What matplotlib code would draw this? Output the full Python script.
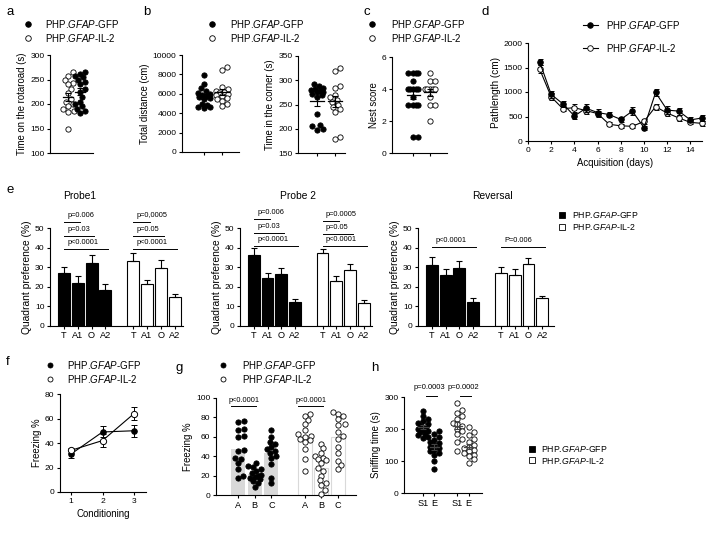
import numpy as np
import matplotlib
matplotlib.use('Agg')
import matplotlib.pyplot as plt
from matplotlib.lines import Line2D
from matplotlib.patches import Rectangle

plt.rcParams['font.family'] = ['Liberation Sans', 'DejaVu Sans']
plt.rcParams['mathtext.fontset'] = 'custom'
plt.rcParams['mathtext.rm'] = 'Liberation Sans'
plt.rcParams['mathtext.it'] = 'Liberation Sans:italic'

# ---------------- data ----------------
GFP_LABEL = 'PHP.$\\mathit{GFAP}$-GFP'
IL2_LABEL = 'PHP.$\\mathit{GFAP}$-IL-2'

# a: rotarod
rota_il2 = [265, 258, 248, 243, 240, 230, 222, 210, 205, 200, 195, 190, 185, 183, 148]
rota_gfp = [265, 262, 258, 255, 250, 245, 240, 230, 225, 215, 205, 200, 195, 190, 185, 182]

# b: open field
dist_gfp = [7900, 7000, 6600, 6300, 6100, 6000, 5900, 5800, 5700, 5600, 5500, 5000, 4800, 4600, 4500, 4600]
dist_il2 = [8800, 8500, 6700, 6500, 6300, 6200, 6100, 6000, 5900, 5800, 5600, 5500, 5300, 5000, 4700]
corner_gfp = [292, 288, 285, 282, 280, 278, 276, 275, 272, 270, 265, 230, 207, 205, 200, 198]
corner_il2 = [325, 320, 288, 285, 270, 265, 260, 255, 250, 245, 240, 235, 182, 178]

# c: nest score
nest_gfp = [5, 5, 5, 5, 4.5, 4, 4, 4, 4, 4, 3.5, 3, 3, 3, 3, 1, 1]
nest_il2 = [5, 4.5, 4.5, 4, 4, 4, 4, 4, 3.5, 3, 3, 2]

# d: water maze acquisition
days = np.arange(1, 16)
path_gfp = [1620, 950, 760, 510, 670, 580, 540, 440, 610, 270, 990, 630, 610, 430, 470]
path_gfp_err = [60, 70, 60, 70, 80, 70, 60, 50, 80, 40, 80, 80, 70, 50, 60]
path_il2 = [1470, 900, 660, 680, 620, 560, 340, 310, 300, 400, 700, 570, 470, 380, 360]
path_il2_err = [80, 70, 50, 80, 70, 60, 40, 40, 40, 50, 60, 50, 60, 40, 50]

# e: probe trials
quadrants = ['T', 'A1', 'O', 'A2']
probe_titles = ['Probe1', 'Probe 2', 'Reversal']
probe_gfp = [[27, 22, 32, 18.5], [36, 24.5, 26.5, 12], [31, 26, 29.5, 12.5]]
probe_gfp_err = [[3, 3.5, 4, 3], [4, 2.5, 3, 2], [4, 3, 3.5, 2]]
probe_il2 = [[33, 21.5, 29.5, 15], [37, 23, 28.5, 11.5], [27, 26, 31.5, 14.5]]
probe_il2_err = [[4, 2, 4, 1.5], [2.5, 2.5, 3, 2], [3, 3, 3, 1]]
# significance: (group, target quadrant index, height, label)
probe_sig = [
    [(0, 1, 53, 'p=0.006'), (0, 2, 46, 'p=0.03'), (0, 3, 39.5, 'p<0.0001'),
     (1, 1, 53, 'p=0,0005'), (1, 2, 46, 'p=0.05'), (1, 3, 39.5, 'p<0.0001')],
    [(0, 1, 54.5, 'p=0.006'), (0, 2, 47.5, 'p=0.03'), (0, 3, 41, 'p<0.0001'),
     (1, 1, 53.5, 'p=0.0005'), (1, 2, 47, 'p=0.05'), (1, 3, 41, 'p<0.0001')],
    [(0, 3, 40.5, 'p<0.0001'), (1, 3, 40.5, 'P=0.006')],
]

# f: fear conditioning
cond = [1, 2, 3]
freeze_gfp = [31, 49, 50]
freeze_gfp_err = [3, 4.5, 5]
freeze_il2 = [34, 42, 64]
freeze_il2_err = [2, 5, 5]

# g: context test
contexts = ['A', 'B', 'C']
ctx_gfp = [
    [76, 75, 68, 67, 61, 60, 46, 45, 38, 37, 33, 27, 20, 18],
    [33, 30, 29, 27, 25, 23, 21, 20, 19, 18, 17, 14, 12, 8],
    [67, 60, 55, 53, 49, 47, 45, 43, 40, 38, 32, 18, 12],
]
ctx_il2 = [
    [84, 81, 77, 73, 67, 63, 61, 60, 58, 57, 55, 47, 37, 25],
    [53, 48, 43, 40, 38, 37, 36, 33, 28, 25, 20, 15, 12, 10, 5, 1],
    [86, 84, 81, 78, 73, 72, 65, 61, 58, 49, 43, 35, 31, 27],
]

# h: social novelty
sniff_labels = ['S1', 'E']
sniff_gfp = [
    [255, 240, 230, 225, 220, 215, 210, 205, 200, 198, 195, 190, 185, 180, 175, 172],
    [195, 185, 175, 165, 160, 155, 150, 145, 140, 135, 130, 125, 120, 100, 75],
]
sniff_il2 = [
    [280, 260, 250, 240, 230, 220, 215, 210, 200, 195, 185, 170, 160, 130],
    [205, 190, 180, 170, 160, 150, 145, 140, 135, 130, 125, 120, 115, 105, 95],
]

# ---------------- figure helpers ----------------
W, H = 706, 533
fig = plt.figure(figsize=(W / 100, H / 100), dpi=100)

TICK = 6.1
LAB = 6.9


def add_ax(x0, ytop, x1, ybot):
    ax = fig.add_axes([x0 / W, 1 - ybot / H, (x1 - x0) / W, (ybot - ytop) / H])
    for s in ['top', 'right']:
        ax.spines[s].set_visible(False)
    for s in ['left', 'bottom']:
        ax.spines[s].set_linewidth(0.8)
    ax.tick_params(labelsize=TICK, length=2.5, width=0.8, pad=1.5)
    ax.patch.set_alpha(0)
    return ax


def swarm_x(ax, xc, vals, d_px=5.0, max_px=6.5):
    # simple beeswarm in pixel space, capped in width (points may overlap)
    tr = ax.transData
    pts = tr.transform(np.column_stack([np.full(len(vals), xc, dtype=float),
                                        np.asarray(vals, dtype=float)]))
    ys = pts[:, 1]
    x0 = pts[0, 0]
    step = 1.6
    cands = [0.0]
    k = 1
    while k * step <= max_px:
        cands += [k * step, -k * step]
        k += 1
    xs = np.zeros(len(vals))
    placed = []
    for i in np.argsort(ys):
        y = ys[i]
        best, best_d = 0.0, -1
        for c in cands:
            dmin = min([np.hypot(c - px, y - py) for px, py in placed] + [99])
            if dmin >= d_px:
                best = c
                break
            if dmin > best_d:
                best, best_d = c, dmin
        placed.append((best, y))
        xs[i] = best
    inv = tr.inverted()
    return inv.transform(np.column_stack([x0 + xs, ys]))[:, 0]


def dots(ax, xc, vals, filled, ms=3.8, d_px=5.0, max_px=6.5):
    xs = swarm_x(ax, xc, vals, d_px, max_px)
    ax.plot(xs, vals, 'o', ms=ms, mfc='black' if filled else 'white',
            mec='black', mew=0.6, ls='none', clip_on=False, zorder=3)


def mean_sem(ax, xc, vals, hw=0.38, color='black'):
    v = np.asarray(vals, dtype=float)
    m = v.mean()
    s = v.std(ddof=1) / np.sqrt(len(v))
    ax.plot([xc - hw, xc + hw], [m, m], color=color, lw=0.9, zorder=4)
    ax.errorbar([xc], [m], yerr=[s], fmt='none', ecolor=color, elinewidth=0.8,
                capsize=2, capthick=0.8, zorder=4)


def legend_item(x, y, marker, filled, ms=4, line=None):
    if line is not None:
        fig.add_artist(Line2D([line[0] / W, line[1] / W], [1 - y / H, 1 - y / H],
                              color='black', lw=0.8, transform=fig.transFigure))
    fig.add_artist(Line2D([x / W], [1 - y / H], marker=marker, ms=ms,
                          mfc='black' if filled else 'white', mec='black', mew=0.6,
                          ls='none', transform=fig.transFigure))


def legend_pair(xm, xt, y1, y2, size=7, ms=4, line=None):
    legend_item(xm, y1, 'o', True, ms=ms, line=line)
    legend_item(xm, y2, 'o', False, ms=ms, line=line)
    fig.text(xt / W, 1 - y1 / H, GFP_LABEL, fontsize=size, va='center', ha='left')
    fig.text(xt / W, 1 - y2 / H, IL2_LABEL, fontsize=size, va='center', ha='left')


def square_legend(xm, xt, y1, y2, size=6.3):
    for y, fc in [(y1, 'black'), (y2, 'white')]:
        fig.add_artist(Rectangle(((xm - 3) / W, 1 - (y + 3) / H), 6 / W, 6 / H,
                                 facecolor=fc, edgecolor='black', lw=0.6,
                                 transform=fig.transFigure))
    fig.text(xt / W, 1 - y1 / H, GFP_LABEL, fontsize=size, va='center')
    fig.text(xt / W, 1 - y2 / H, IL2_LABEL, fontsize=size, va='center')


def panel_letter(x, y, s):
    fig.text(x / W, 1 - y / H, s, fontsize=9.5, va='center', ha='left')


# ---------------- a ----------------
ax = add_ax(50, 55, 93, 153)
ax.set_xlim(-1.5, 2.08)
ax.set_ylim(100, 300)
ax.set_yticks([100, 150, 200, 250, 300])
ax.set_xticks([])
dots(ax, 0, rota_il2, False)
dots(ax, 1, rota_gfp, True)
mean_sem(ax, 0, rota_il2)
mean_sem(ax, 1, rota_gfp)
ax.set_ylabel('Time on the rotaroad (s)', fontsize=LAB, labelpad=2)
panel_letter(6, 12, 'a')
legend_pair(28, 45, 24, 38)

# ---------------- b ----------------
ax = add_ax(182, 55, 239, 152)
ax.set_xlim(-1.22, 1.94)
ax.set_ylim(0, 10000)
ax.set_yticks(range(0, 10001, 2000))
ax.set_xticks([0, 1])
ax.set_xticklabels(['', ''])
dots(ax, 0, dist_gfp, True)
dots(ax, 1, dist_il2, False)
mean_sem(ax, 0, dist_gfp)
mean_sem(ax, 1, dist_il2)
ax.set_ylabel('Total distance (cm)', fontsize=LAB, labelpad=2)

ax = add_ax(298, 56, 345, 153)
ax.set_xlim(-1.06, 1.56)
ax.set_ylim(150, 350)
ax.set_yticks(range(150, 351, 50))
ax.set_xticks([0, 1])
ax.set_xticklabels(['', ''])
dots(ax, 0, corner_gfp, True)
dots(ax, 1, corner_il2, False)
mean_sem(ax, 0, corner_gfp)
mean_sem(ax, 1, corner_il2)
ax.set_ylabel('Time in the corner (s)', fontsize=LAB, labelpad=2)
panel_letter(143, 12, 'b')
legend_pair(212, 230, 24, 38)

# ---------------- c ----------------
ax = add_ax(392, 57, 447, 153)
ax.set_xlim(-1.24, 2.0)
ax.set_ylim(0, 6)
ax.set_yticks([0, 2, 4, 6])
ax.set_xticks([0, 1])
ax.set_xticklabels(['', ''])
dots(ax, 0, nest_gfp, True, max_px=6)
dots(ax, 1, nest_il2, False, max_px=6)
mean_sem(ax, 0, nest_gfp)
mean_sem(ax, 1, nest_il2)
ax.set_ylabel('Nest score', fontsize=LAB, labelpad=2)
panel_letter(363, 12, 'c')
legend_pair(372, 391, 24, 38)

# ---------------- d ----------------
ax = add_ax(528, 43, 702, 141)
ax.set_xlim(0, 15)
ax.set_ylim(0, 2000)
ax.set_xticks(range(0, 15, 2))
ax.set_yticks(range(0, 2001, 500))
ax.errorbar(days, path_il2, yerr=path_il2_err, fmt='-o', color='black', lw=0.8,
            ms=4, mfc='white', mec='black', mew=0.7, capsize=1.8, elinewidth=0.7,
            clip_on=False, zorder=3)
ax.errorbar(days, path_gfp, yerr=path_gfp_err, fmt='-o', color='black', lw=0.8,
            ms=4, mfc='black', mec='black', mew=0.7, capsize=1.8, elinewidth=0.7,
            clip_on=False, zorder=4)
ax.set_ylabel('Pathlength (cm)', fontsize=LAB + 0.3, labelpad=2)
ax.set_xlabel('Acquisition (days)', fontsize=LAB, labelpad=3)
panel_letter(481, 12, 'd')
legend_pair(590, 606, 25, 48, ms=4, line=(583, 598))

# ---------------- e ----------------
probe_boxes = [(50, 183), (240, 372), (418, 554)]
title_x = [80, 298, 492]
for k, (x0, x1) in enumerate(probe_boxes):
    ax = add_ax(x0, 228, x1, 326)
    pos1 = np.arange(4)
    pos2 = np.arange(4) + 5
    ax.bar(pos1, probe_gfp[k], width=0.86, color='black', edgecolor='black', lw=0.8)
    ax.bar(pos2, probe_il2[k], width=0.86, color='white', edgecolor='black', lw=0.8)
    ax.errorbar(pos1, probe_gfp[k], yerr=[np.zeros(4), probe_gfp_err[k]], fmt='none',
                ecolor='black', elinewidth=0.8, capsize=2, capthick=0.8)
    ax.errorbar(pos2, probe_il2[k], yerr=[np.zeros(4), probe_il2_err[k]], fmt='none',
                ecolor='black', elinewidth=0.8, capsize=2, capthick=0.8)
    ax.set_xlim(-1.0, 8.6 if k < 2 else 8.85)
    ax.set_ylim(0, 50)
    ax.set_yticks(range(0, 51, 10))
    ax.set_xticks(np.r_[pos1, pos2])
    ax.set_xticklabels(quadrants * 2, fontsize=6.6)
    ax.tick_params(axis='x', pad=1)
    ax.set_ylabel('Quadrant preference (%)', fontsize=7.4, labelpad=2)
    for grp, tgt, yv, txt in probe_sig[k]:
        base = 0 if grp == 0 else 5
        xa = base
        xb = base + tgt + 0.2
        ax.plot([xa, xb], [yv, yv], color='black', lw=0.7, clip_on=False)
        ax.text(xa + 0.25, yv + 1.4, txt, fontsize=5.3, ha='left', va='bottom')
    fig.text(title_x[k] / W, 1 - 196 / H, probe_titles[k], fontsize=7.4,
             ha='center', va='center')
panel_letter(6, 190, 'e')
square_legend(562, 572, 215, 227)

# ---------------- f ----------------
ax = add_ax(60, 394, 146, 492)
ax.set_xlim(0.65, 3.38)
ax.set_ylim(0, 80)
ax.set_xticks(cond)
ax.set_yticks(range(0, 81, 20))
ax.errorbar(cond, freeze_gfp, yerr=freeze_gfp_err, fmt='-o', color='black', lw=0.8,
            ms=4, mfc='black', mec='black', mew=0.7, capsize=2, elinewidth=0.7, zorder=3)
ax.errorbar(cond, freeze_il2, yerr=freeze_il2_err, fmt='-o', color='black', lw=0.8,
            ms=4.5, mfc='white', mec='black', mew=0.7, capsize=2, elinewidth=0.7, zorder=4)
ax.set_ylabel('Freezing %', fontsize=LAB, labelpad=2)
ax.set_xlabel('Conditioning', fontsize=LAB, labelpad=3)
panel_letter(6, 362, 'f')
legend_pair(50, 67, 365, 379, ms=3.6)

# ---------------- g ----------------
ax = add_ax(216, 398, 356, 495)
ax.set_xlim(-1.32, 7.07)
ax.set_ylim(0, 100)
ax.set_yticks(range(0, 101, 20))
gpos1 = np.arange(3)
gpos2 = np.arange(3) + 4
ax.bar(gpos1, [np.mean(v) for v in ctx_gfp], width=0.84, color='#d9d9d9', lw=0)
ax.bar(gpos2, [np.mean(v) for v in ctx_il2], width=0.84, color='white',
       edgecolor='#d9d9d9', lw=0.8)
for i in range(3):
    dots(ax, gpos1[i], ctx_gfp[i], True, ms=3.8, d_px=5.0, max_px=6.5)
    dots(ax, gpos2[i], ctx_il2[i], False, ms=3.8, d_px=5.0, max_px=6.5)
ax.set_xticks(np.r_[gpos1, gpos2])
ax.set_xticklabels(contexts * 2, fontsize=6.6)
ax.set_ylabel('Freezing %', fontsize=LAB, labelpad=2)
for base in [0, 4]:
    ax.plot([base - 0.4, base + 1.1], [92, 92], color='black', lw=0.7, clip_on=False)
    ax.text(base + 0.35, 94, 'p<0.0001', fontsize=5.3, ha='center', va='bottom')
panel_letter(176, 368, 'g')
legend_pair(223, 242, 365, 379, ms=3.6)

# ---------------- h ----------------
ax = add_ax(404, 397, 482, 493)
hpos = [0, 1, 3, 4]
ax.set_xlim(-1.65, 5.15)
ax.set_ylim(0, 300)
ax.set_yticks([0, 100, 200, 300])
dots(ax, 0, sniff_gfp[0], True, d_px=4.6, max_px=5.5)
dots(ax, 1, sniff_gfp[1], True, d_px=4.6, max_px=5.5)
dots(ax, 3, sniff_il2[0], False, d_px=4.6, max_px=5.5)
dots(ax, 4, sniff_il2[1], False, d_px=4.6, max_px=5.5)
for p, v in zip(hpos, sniff_gfp + sniff_il2):
    mean_sem(ax, p, v, hw=0.4, color='#444444')
ax.set_xticks(hpos)
ax.set_xticklabels(sniff_labels * 2, fontsize=6.6)
ax.set_ylabel('Sniffing time (s)', fontsize=LAB, labelpad=2)
for base, txt in [(0, 'p=0.0003'), (3, 'p=0.0002')]:
    ax.plot([base + 0.25, base + 1.2], [303, 303], color='black', lw=0.7, clip_on=False)
    ax.text(base + 0.55, 318, txt, fontsize=5.5, ha='center', va='bottom')
panel_letter(371, 368, 'h')
square_legend(532, 541, 449, 460)

fig.savefig('out.png', dpi=100)
